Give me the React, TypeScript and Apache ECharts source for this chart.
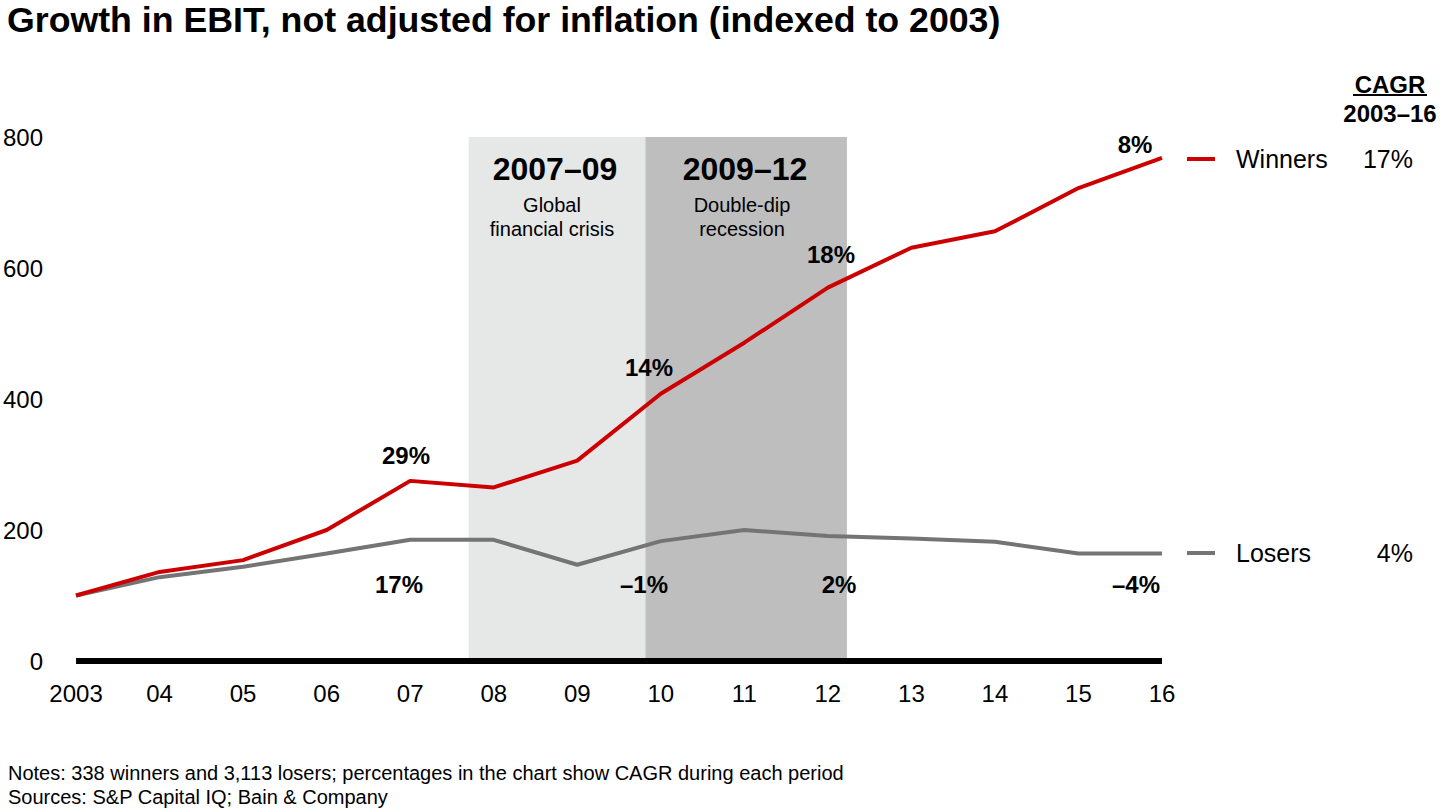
import React, { useEffect, useRef } from "react";
import * as echarts from "echarts";

const categories = ["2003", "04", "05", "06", "07", "08", "09", "10", "11", "12", "13", "14", "15", "16"];
const winners = [100, 136, 154, 200, 275, 265, 306, 408, 486, 570, 631, 656, 722, 768];
const losers = [100, 128, 144, 164, 185, 185, 147, 183, 200, 191, 187, 182, 164, 164];
const yTicks = [0, 200, 400, 600, 800];
const periodRanges = [
  [4.7, 6.816],
  [6.816, 9.228],
];
const periodTitles = ["2007–09", "2009–12"];
const periodSubtitles = [
  ["Global", "financial crisis"],
  ["Double-dip", "recession"],
];
const winnersPeriodCagr = ["29%", "14%", "18%", "8%"];
const losersPeriodCagr = ["17%", "–1%", "2%", "–4%"];
const seriesNames = ["Winners", "Losers"];
const totalCagr = ["17%", "4%"];

const FONT = "'Liberation Sans', Arial, Helvetica, sans-serif";
const RED = "#cc0000";
const GRAY = "#747474";

export default function App() {
  const ref = useRef<HTMLDivElement>(null);

  useEffect(() => {
    if (!ref.current) return;
    const chart = echarts.init(ref.current, null, { renderer: "svg" });

    const txt = (text: string, x: number, y: number, size: number, bold = false, align = "center") => ({
      type: "text",
      x,
      y,
      z: 100,
      style: {
        text,
        fontSize: size,
        fontWeight: bold ? "bold" : "normal",
        fontFamily: FONT,
        fill: "#000",
        align,
        verticalAlign: "middle",
      },
    });

    const winPos = [
      [406, 455],
      [649, 367],
      [831, 254],
      [1135, 144],
    ];
    const losePos = [
      [399, 584],
      [644, 584],
      [839, 584],
      [1136, 584],
    ];
    const shadeCenters = [
      [555, 552],
      [745, 742],
    ];
    const legendY = [159, 553];
    const legendColors = [RED, GRAY];

    const graphics: any[] = [
      txt("Growth in EBIT, not adjusted for inflation (indexed to 2003)", 7, 20, 35.7, true, "left"),
      txt("Notes: 338 winners and 3,113 losers; percentages in the chart show CAGR during each period", 8, 773, 20, false, "left"),
      txt("Sources: S&P Capital IQ; Bain & Company", 8, 797, 20, false, "left"),
      txt("CAGR", 1390, 84, 24, true),
      {
        type: "line",
        z: 100,
        shape: { x1: 1353, y1: 95, x2: 1427, y2: 95 },
        style: { stroke: "#000", lineWidth: 2 },
      },
      txt("2003–16", 1390, 113, 24, true),
    ];
    periodTitles.forEach((t, i) => {
      graphics.push(txt(t, shadeCenters[i][0], 169, 32, true));
      graphics.push(txt(periodSubtitles[i][0], shadeCenters[i][1], 205, 20));
      graphics.push(txt(periodSubtitles[i][1], shadeCenters[i][1], 229, 20));
    });
    winnersPeriodCagr.forEach((t, i) => graphics.push(txt(t, winPos[i][0], winPos[i][1], 24, true)));
    losersPeriodCagr.forEach((t, i) => graphics.push(txt(t, losePos[i][0], losePos[i][1], 24, true)));
    seriesNames.forEach((n, i) => {
      graphics.push({
        type: "line",
        z: 100,
        shape: { x1: 1187, y1: legendY[i], x2: 1215, y2: legendY[i] },
        style: { stroke: legendColors[i], lineWidth: 4 },
      });
      graphics.push(txt(n, 1236, legendY[i], 25, false, "left"));
      graphics.push(txt(totalCagr[i], 1413, legendY[i], 25, false, "right"));
    });

    chart.setOption({
      animation: false,
      grid: { left: 73, right: 278, top: 137, bottom: 149, containLabel: false },
      xAxis: {
        type: "value",
        z: 10,
        min: 0,
        max: categories.length - 1,
        interval: 1,
        axisLine: { show: true, lineStyle: { color: "#000", width: 6, cap: "butt" } },
        axisTick: { show: false },
        splitLine: { show: false },
        axisLabel: {
          formatter: (v: number) => categories[Math.round(v)] ?? "",
          fontSize: 24,
          fontFamily: FONT,
          color: "#000",
          margin: 20,
        },
      },
      yAxis: {
        type: "value",
        min: yTicks[0],
        max: yTicks[yTicks.length - 1],
        interval: yTicks[1] - yTicks[0],
        axisLine: { show: false },
        axisTick: { show: false },
        splitLine: { show: false },
        axisLabel: { fontSize: 24, fontFamily: FONT, color: "#000", margin: 33 },
      },
      series: [
        {
          type: "line",
          data: [],
          z: 1,
          silent: true,
          markArea: {
            silent: true,
            data: periodRanges.map((r, i) => [
              { xAxis: r[0], yAxis: yTicks[0], itemStyle: { color: i === 0 ? "#e6e7e7" : "#bebebf" } },
              { xAxis: r[1], yAxis: yTicks[yTicks.length - 1] },
            ]),
          },
        },
        {
          name: seriesNames[1],
          type: "line",
          data: losers.map((v, i) => [i, v]),
          showSymbol: false,
          lineStyle: { color: GRAY, width: 4 },
          itemStyle: { color: GRAY },
          z: 3,
        },
        {
          name: seriesNames[0],
          type: "line",
          data: winners.map((v, i) => [i, v]),
          showSymbol: false,
          lineStyle: { color: RED, width: 4 },
          itemStyle: { color: RED },
          z: 4,
        },
      ],
      graphic: graphics,
    });

    return () => chart.dispose();
  }, []);

  return (
    <div
      ref={ref}
      style={{ position: "fixed", left: 0, top: 0, width: 1440, height: 810, background: "#fff" }}
    />
  );
}
